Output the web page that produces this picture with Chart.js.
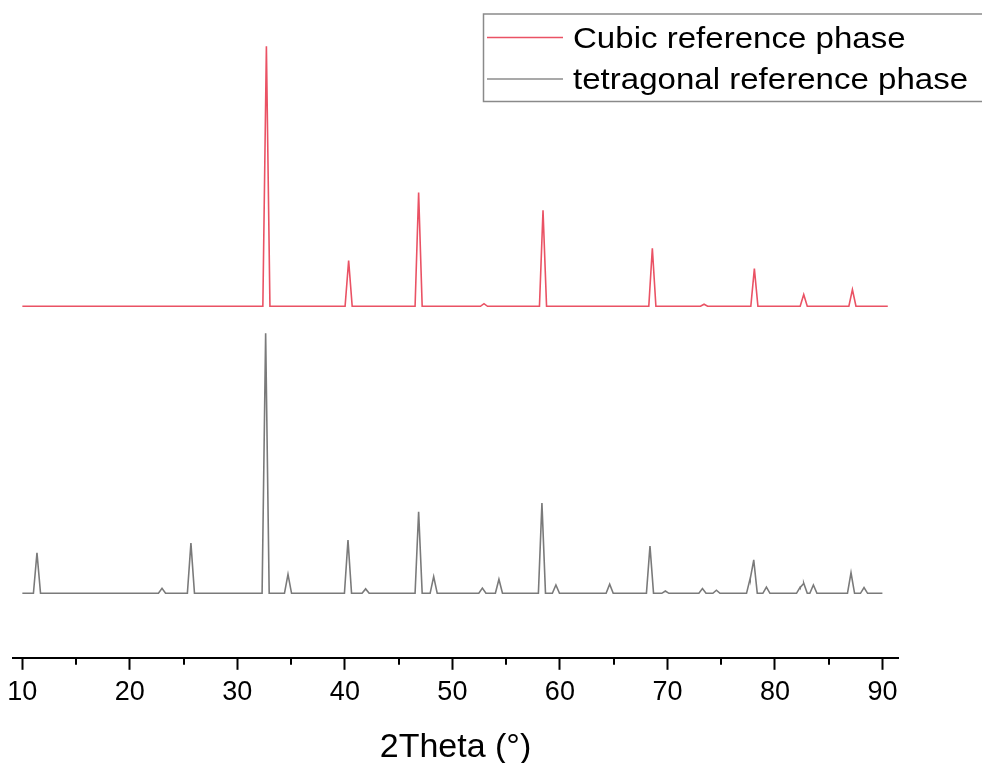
<!DOCTYPE html>
<html>
<head>
<meta charset="utf-8">
<title>XRD reference phases</title>
<script src="https://cdn.jsdelivr.net/npm/chart.js@4.4.1/dist/chart.umd.min.js"></script>
<style>
  html, body { margin: 0; padding: 0; background: #fff; }
  #wrap { position: relative; width: 982px; height: 763px; }
</style>
</head>
<body>
<div id="wrap"><canvas id="xrdChart"></canvas></div>
<script>
// ? Peak tables: 2theta (deg) and relative intensity (strongest line = 100)
// ? ==================================
const cubicPos = [32.70, 40.35, 46.86, 52.94, 58.43, 68.60, 73.41, 78.09, 82.68, 87.21];
const cubicInt = [100, 17.6, 43.8, 1.0, 36.9, 22.3, 0.8, 14.5, 4.5, 6.4];

const tetraPos = [11.36, 22.99, 25.68, 32.63, 34.71, 40.29, 41.93, 46.86, 48.26, 52.79,
                  54.33, 58.33, 59.63, 64.63, 68.38, 69.81, 73.26, 74.56, 77.69, 78.03,
                  79.21, 82.34, 82.68, 83.58, 87.08, 88.29];
const tetraInt = [15.6, 1.9, 19.3, 100, 7.3, 20.5, 1.7, 31.4, 6.4, 2.0,
                  5.4, 34.7, 3.2, 3.5, 18.2, 0.9, 1.8, 1.2, 5.6, 12.9,
                  2.4, 2.3, 3.9, 3.2, 7.9, 2.2];

const cubicScan = [10, 90.5];
const tetraScan = [10, 90];
const cubicOffset = 110.4; // cubic pattern stacked above the tetragonal one

const majorTicks = [10, 20, 30, 40, 50, 60, 70, 80, 90];
const minorTicks = [15, 25, 35, 45, 55, 65, 75, 85];

const FONT = "'Liberation Sans', Arial, Helvetica, sans-serif";
const RED = "#ea5264";
const GREY = "#7a7a7a";
const HALF_WIDTH = 0.33; // half base width of each peak, deg

// & Build a line from the peak table: triangular peaks summed at every vertex
// & ============================
function profile(pos, ints, scan, offset) {
  const xs = [scan[0], scan[1]];
  pos.forEach((p) => xs.push(p - HALF_WIDTH, p, p + HALF_WIDTH));
  xs.sort((a, b) => a - b);
  return xs.map((x) => {
    let y = 0;
    pos.forEach((p, i) => {
      const d = Math.abs(x - p);
      if (d < HALF_WIDTH) y += ints[i] * (1 - d / HALF_WIDTH);
    });
    return { x: x, y: y + offset };
  });
}

// * short ticks at the odd fives
const minorTickPlugin = {
  id: "minorTickPlugin",
  afterDraw(chart) {
    const sx = chart.scales.x;
    const c = chart.ctx;
    c.save();
    c.strokeStyle = "#000";
    c.lineWidth = 2;
    minorTicks.forEach((v) => {
      const px = Math.round(sx.getPixelForValue(v));
      c.beginPath();
      c.moveTo(px, chart.chartArea.bottom);
      c.lineTo(px, chart.chartArea.bottom + 7);
      c.stroke();
    });
    c.restore();
  },
};

// * boxed legend in the top right corner
const legendColors = [RED, "#8c8c8c"];
const boxLegendPlugin = {
  id: "boxLegendPlugin",
  afterDraw(chart) {
    const c = chart.ctx;
    const left = 483.5, top = 14, bottom = 101.5;
    c.save();
    c.strokeStyle = "#8a8a8a";
    c.lineWidth = 1.5;
    c.strokeRect(left, top, chart.width - left + 10, bottom - top);
    const rows = [37.5, 79];
    chart.data.datasets.forEach((ds, i) => {
      const y = rows[i];
      c.strokeStyle = legendColors[i];
      c.lineWidth = 1.5;
      c.beginPath();
      c.moveTo(487, y);
      c.lineTo(563, y);
      c.stroke();
      c.save();
      c.translate(573, y + 10.4);
      c.scale(1.14, 1);
      c.fillStyle = "#000";
      c.font = "29px " + FONT;
      c.textBaseline = "alphabetic";
      c.fillText(ds.label, 0, 0);
      c.restore();
    });
    c.restore();
  },
};

const ctx = document.getElementById("xrdChart").getContext("2d");
new Chart(ctx, {
  type: "line",
  data: {
    datasets: [
      {
        label: "Cubic reference phase",
        data: profile(cubicPos, cubicInt, cubicScan, cubicOffset),
        borderColor: RED,
        borderWidth: 1.6,
        pointRadius: 0,
        tension: 0,
      },
      {
        label: "tetragonal reference phase",
        data: profile(tetraPos, tetraInt, tetraScan, 0),
        borderColor: GREY,
        borderWidth: 1.6,
        pointRadius: 0,
        tension: 0,
      },
    ],
  },
  options: {
    responsive: true,
    maintainAspectRatio: false,
    animation: false,
    parsing: false,
    layout: { padding: { left: 13, right: 84, top: 0, bottom: -5 } },
    plugins: {
      legend: { display: false },
      tooltip: { enabled: false },
    },
    scales: {
      x: {
        type: "linear",
        min: 9.13,
        max: 91.45,
        border: { display: true, color: "#000", width: 2 },
        grid: {
          drawOnChartArea: false,
          drawTicks: true,
          tickLength: 12,
          tickWidth: 2,
          tickColor: "#000",
        },
        afterBuildTicks: (scale) => {
          scale.ticks = majorTicks.map((v) => ({ value: v }));
        },
        ticks: {
          color: "#000",
          padding: 7,
          font: { family: FONT, size: 27 },
          maxRotation: 0,
          autoSkip: false,
        },
        title: {
          display: true,
          text: "2Theta (\u00b0)",
          color: "#000",
          font: { family: FONT, size: 34 },
          padding: { top: 11, bottom: 0 },
        },
      },
      y: {
        display: false,
        min: -24.8,
        max: 228.2,
      },
    },
  },
  plugins: [minorTickPlugin, boxLegendPlugin],
});
</script>
</body>
</html>
